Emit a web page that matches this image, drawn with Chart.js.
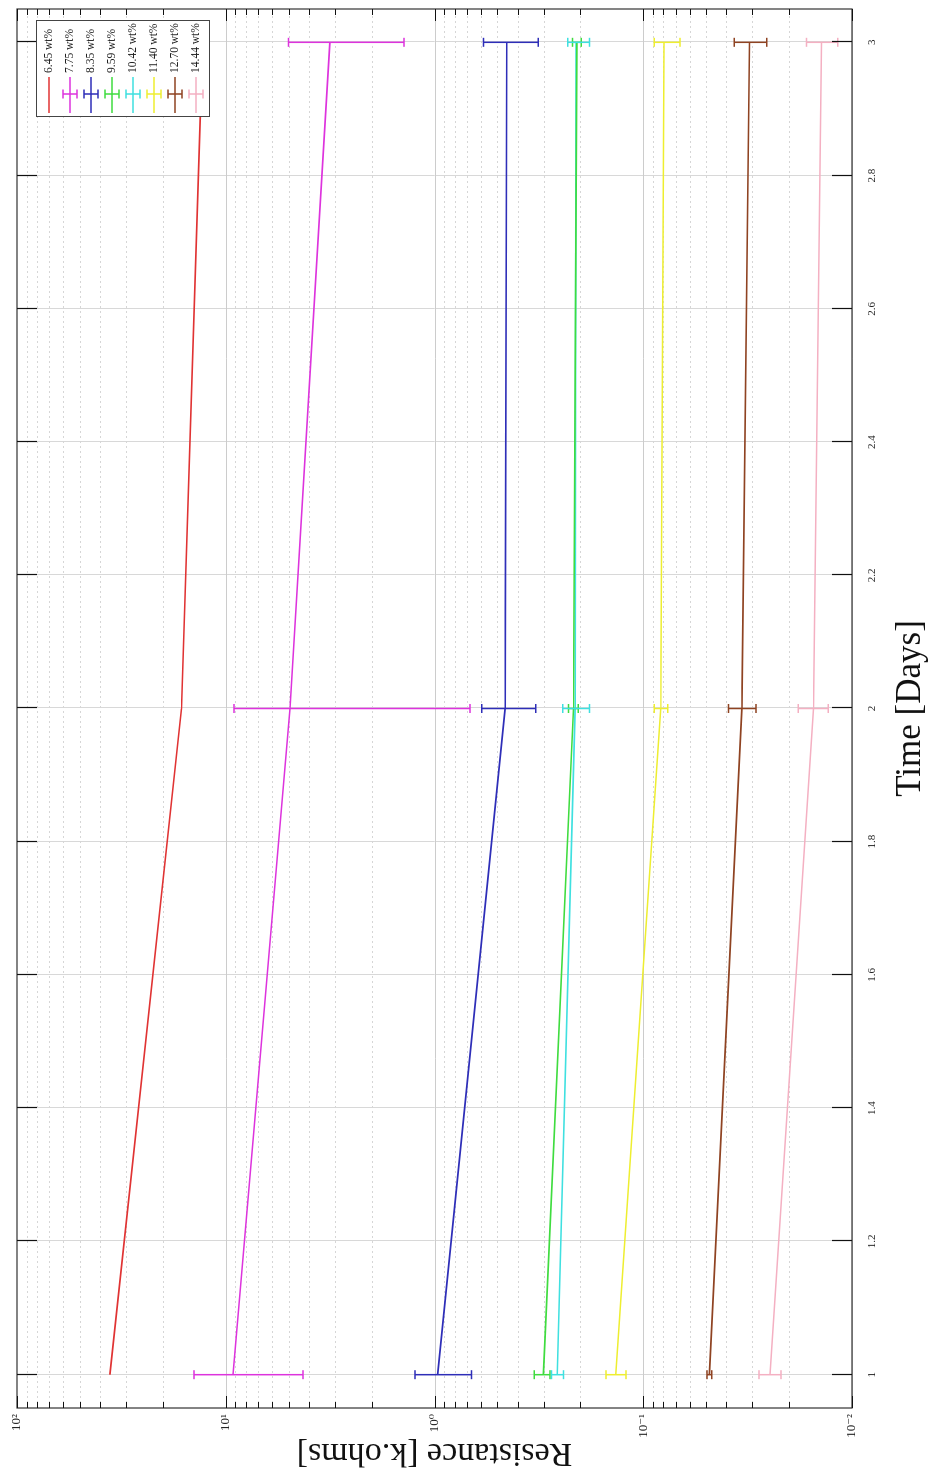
<!DOCTYPE html>
<html>
<head>
<meta charset="utf-8">
<script src="https://cdn.jsdelivr.net/npm/chart.js@4.4.0/dist/chart.umd.min.js"></script>
<style>
  html, body { margin: 0; padding: 0; background: #fff; }
  body { width: 943px; height: 1475px; overflow: hidden; position: relative; }
  #wrap {
    position: absolute; left: 0; top: 0;
    width: 1475px; height: 943px;
    transform-origin: 0 0;
    transform: translateY(1475px) rotate(-90deg);
  }
</style>
</head>
<body>
<div id="wrap"><canvas id="chart" width="1475" height="943"></canvas></div>
<script>
const days = [1, 2, 3];
const timeTicks = [1, 1.2, 1.4, 1.6, 1.8, 2, 2.2, 2.4, 2.6, 2.8, 3];
const decadeValues = [0.01, 0.1, 1, 10, 100];
const decadeLabels = ['10\u207B\u00B2', '10\u207B\u00B9', '10\u2070', '10\u00B9', '10\u00B2'];

const seriesLabels = ['6.45 wt%', '7.75 wt%', '8.35 wt%', '9.59 wt%', '10.42 wt%', '11.40 wt%', '12.70 wt%', '14.44 wt%'];
const seriesColors = ['#e03333', '#dd33dd', '#2e2eb8', '#3fdc3f', '#3fe0e0', '#eeee30', '#8f4322', '#f4b0c2'];

const r645 = [35.9, 16.3, 12.9];
const r775 = [9.23, 4.92, 3.17];
const r835 = [0.966, 0.459, 0.451];
const r959 = [0.301, 0.216, 0.208];
const r1042 = [0.258, 0.212, 0.210];
const r1140 = [0.1355, 0.0824, 0.0796];
const r1270 = [0.0482, 0.0337, 0.0310];
const r1444 = [0.0247, 0.0153, 0.0140];

// error bar ends (upper, lower)
const e775hi = [14.2, 9.12, 5.0];
const e775lo = [4.27, 0.676, 1.40];
const e835hi = [1.24, 0.594, 0.583];
const e835lo = [0.664, 0.327, 0.318];
const e959hi = [0.333, 0.228, 0.218];
const e959lo = [0.280, 0.205, 0.198];
const e1042hi = [0.275, 0.243, 0.230];
const e1042lo = [0.241, 0.181, 0.181];
const e1140hi = [0.151, 0.0885, 0.0885];
const e1140lo = [0.121, 0.0764, 0.0667];
const e1270hi = [0.0495, 0.0391, 0.0366];
const e1270lo = [0.0470, 0.0288, 0.0256];
const e1444hi = [0.0279, 0.0181, 0.0165];
const e1444lo = [0.0219, 0.0130, 0.0117];

const allValues = [r645, r775, r835, r959, r1042, r1140, r1270, r1444];
const allHi = [null, e775hi, e835hi, e959hi, e1042hi, e1140hi, e1270hi, e1444hi];
const allLo = [null, e775lo, e835lo, e959lo, e1042lo, e1140lo, e1270lo, e1444lo];

const serif = '"Liberation Serif", "DejaVu Serif", serif';

const datasets = allValues.map((vals, i) => ({
    label: seriesLabels[i],
    data: days.map((d, j) => ({x: d, y: vals[j]})),
    borderColor: seriesColors[i],
    backgroundColor: seriesColors[i],
    borderWidth: 1.6,
    pointRadius: 0,
    tension: 0,
    errHi: allHi[i],
    errLo: allLo[i]
}));

const gridPlugin = {
    id: 'grid',
    beforeDatasetsDraw(chart) {
        const {ctx, chartArea: a, scales: {x, y}} = chart;
        ctx.save();
        ctx.lineWidth = 1;
        // time grid
        ctx.strokeStyle = '#d8d8d8';
        timeTicks.forEach(t => {
            const px = Math.round(x.getPixelForValue(t)) + 0.5;
            ctx.beginPath(); ctx.moveTo(px, a.top); ctx.lineTo(px, a.bottom); ctx.stroke();
        });
        // log grid
        for (let e = -2; e <= 1; e++) {
            for (let m = 1; m <= 9; m++) {
                const py = Math.round(y.getPixelForValue(m * Math.pow(10, e))) + 0.5;
                if (m === 1) { ctx.strokeStyle = '#cccccc'; ctx.setLineDash([]); }
                else { ctx.strokeStyle = '#d6d6d6'; ctx.setLineDash([2, 3]); }
                ctx.beginPath(); ctx.moveTo(a.left, py); ctx.lineTo(a.right, py); ctx.stroke();
            }
        }
        ctx.restore();
    },
    afterDatasetsDraw(chart) {
        const {ctx, chartArea: a, scales: {x, y}} = chart;
        ctx.save();
        // error bars
        chart.data.datasets.forEach(ds => {
            if (!ds.errHi) return;
            ctx.strokeStyle = ds.borderColor;
            ctx.lineWidth = 1.5;
            days.forEach((d, j) => {
                const px = x.getPixelForValue(d);
                const p1 = y.getPixelForValue(ds.errHi[j]);
                const p2 = y.getPixelForValue(ds.errLo[j]);
                ctx.beginPath();
                ctx.moveTo(px, p1); ctx.lineTo(px, p2);
                ctx.moveTo(px - 4.5, p1); ctx.lineTo(px + 4.5, p1);
                ctx.moveTo(px - 4.5, p2); ctx.lineTo(px + 4.5, p2);
                ctx.stroke();
            });
        });
        // frame
        ctx.strokeStyle = '#333';
        ctx.lineWidth = 1.2;
        ctx.strokeRect(a.left, a.top, a.right - a.left, a.bottom - a.top);
        ctx.strokeStyle = '#111';
        ctx.lineWidth = 1.2;
        // time ticks, top and bottom, inward
        timeTicks.forEach(t => {
            const px = Math.round(x.getPixelForValue(t)) + 0.5;
            ctx.beginPath();
            ctx.moveTo(px, a.bottom); ctx.lineTo(px, a.bottom - 20);
            ctx.moveTo(px, a.top); ctx.lineTo(px, a.top + 20);
            ctx.stroke();
        });
        // log ticks, left and right, inward
        for (let e = -2; e <= 2; e++) {
            for (let m = 1; m <= 9; m++) {
                if (e === 2 && m > 1) break;
                const py = Math.round(y.getPixelForValue(m * Math.pow(10, e))) + 0.5;
                const len = m === 1 ? 12 : 6;
                ctx.beginPath();
                ctx.moveTo(a.left, py); ctx.lineTo(a.left + len, py);
                ctx.moveTo(a.right, py); ctx.lineTo(a.right - len, py);
                ctx.stroke();
            }
        }
        ctx.restore();
    },
    afterDraw(chart) {
        const {ctx, chartArea: a} = chart;
        const bx = a.right - 108, by = a.top + 19, bw = 96, bh = 173;
        ctx.save();
        ctx.fillStyle = '#fff';
        ctx.fillRect(bx, by, bw, bh);
        ctx.strokeStyle = '#444';
        ctx.lineWidth = 1;
        ctx.strokeRect(bx + 0.5, by + 0.5, bw, bh);
        ctx.font = '11.5px ' + serif;
        ctx.textBaseline = 'middle';
        ctx.textAlign = 'left';
        chart.data.datasets.forEach((ds, i) => {
            const cy = by + 13 + i * 21;
            ctx.strokeStyle = ds.borderColor;
            ctx.lineWidth = 1.5;
            ctx.beginPath();
            ctx.moveTo(bx + 4, cy); ctx.lineTo(bx + 40, cy);
            if (ds.errHi) {
                const cx = bx + 23;
                ctx.moveTo(cx, cy - 7); ctx.lineTo(cx, cy + 7);
                ctx.moveTo(cx - 4.5, cy - 7); ctx.lineTo(cx + 4.5, cy - 7);
                ctx.moveTo(cx - 4.5, cy + 7); ctx.lineTo(cx + 4.5, cy + 7);
            }
            ctx.stroke();
            ctx.fillStyle = '#222';
            ctx.fillText(ds.label, bx + 44, cy);
        });
        ctx.restore();
    }
};

new Chart(document.getElementById('chart').getContext('2d'), {
    type: 'line',
    data: { datasets: datasets },
    plugins: [gridPlugin],
    options: {
        responsive: false,
        animation: false,
        devicePixelRatio: 1,
        layout: { padding: { top: 17, right: 9, left: 0, bottom: 0 } },
        plugins: { legend: { display: false }, tooltip: { enabled: false } },
        scales: {
            x: {
                type: 'linear',
                min: 0.95,
                max: 3.05,
                afterBuildTicks: s => { s.ticks = timeTicks.map(v => ({value: v})); },
                afterFit: s => { s.height = 91; },
                grid: { display: false, drawTicks: false },
                border: { display: false },
                ticks: {
                    padding: 14,
                    color: '#222',
                    font: { family: serif, size: 11 },
                    callback: v => String(Math.round(v * 10) / 10)
                },
                title: {
                    display: true,
                    text: 'Time [Days]',
                    color: '#111',
                    font: { family: serif, size: 35 },
                    padding: { top: 0, bottom: 11 }
                }
            },
            y: {
                type: 'logarithmic',
                min: 0.01,
                max: 100,
                afterFit: s => { s.width = 67; },
                grid: { display: false, drawTicks: false },
                border: { display: false },
                ticks: {
                    autoSkip: false,
                    padding: 6,
                    color: '#222',
                    font: { family: serif, size: 13 },
                    callback: v => {
                        const k = decadeValues.findIndex(d => Math.abs(d - v) / d < 1e-6);
                        return k >= 0 ? decadeLabels[k] : '';
                    }
                },
                title: {
                    display: true,
                    text: 'Resistance [k.ohms]',
                    color: '#111',
                    font: { family: serif, size: 34 },
                    padding: { top: 2, bottom: 0 }
                }
            }
        }
    }
});
</script>
</body>
</html>
